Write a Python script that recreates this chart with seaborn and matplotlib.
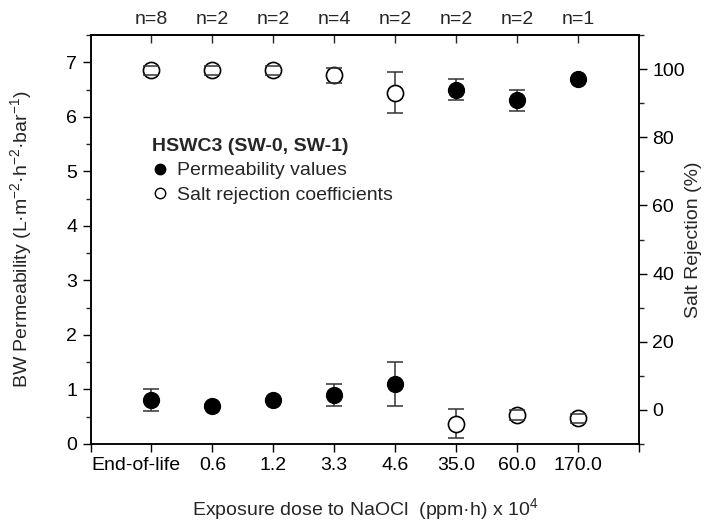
import numpy as np
import pandas as pd
import matplotlib
matplotlib.use("Agg")
import matplotlib.pyplot as plt
from matplotlib.lines import Line2D
from matplotlib.ticker import MultipleLocator, FixedLocator, NullFormatter
import seaborn as sns

# NaOCl exposure doses (x 10^4 ppm·h) and sample counts
doses = ["End-of-life", "0.6", "1.2", "3.3", "4.6", "35.0", "60.0", "170.0"]
counts = ["n=8", "n=2", "n=2", "n=4", "n=2", "n=2", "n=2", "n=1"]

# Brackish-water permeability (L·m-2·h-1·bar-1) with standard deviations
permeability = [0.8, 0.7, 0.8, 0.9, 1.1, 6.5, 6.3, 6.7]
permeability_err = [0.2, 0.03, 0.03, 0.2, 0.4, 0.2, 0.2, 0.0]

# Salt rejection (%) with standard deviations
rejection = [99.6, 99.7, 99.6, 98.2, 93.0, -4.0, -1.5, -2.5]
rejection_err = [1.3, 1.3, 1.3, 2.2, 6.0, 4.3, 1.4, 1.3]

sns.set_theme(style="ticks")
plt.rcParams["font.family"] = ["Liberation Sans", "DejaVu Sans"]
plt.rcParams["mathtext.fontset"] = "custom"
plt.rcParams["mathtext.rm"] = "Liberation Sans"
plt.rcParams["mathtext.it"] = "Liberation Sans:italic"
plt.rcParams["mathtext.bf"] = "Liberation Sans:bold"

FS = 14
df = pd.DataFrame({
    "pos": np.arange(len(doses)),
    "dose": doses,
    "perm": permeability,
    "perm_err": permeability_err,
    "rej": rejection,
    "rej_err": rejection_err,
})

fig = plt.figure(figsize=(7.11, 5.26), dpi=100)
ax = fig.add_axes([90.5 / 711, 82 / 526, 548.5 / 711, 409 / 526])
ax2 = ax.twinx()

err_color = "#333333"

# Permeability: filled circles, error bars underneath
ax.errorbar(df["pos"], df["perm"], yerr=df["perm_err"], fmt="none",
            ecolor=err_color, elinewidth=1.1, capsize=6, capthick=1.1, zorder=2)
sns.scatterplot(data=df, x="pos", y="perm", ax=ax, color="black", s=135,
                edgecolor="black", linewidth=0.8, zorder=3, legend=False)

# Salt rejection: open circles, caps drawn over the marker
_, caps, bars = ax2.errorbar(df["pos"], df["rej"], yerr=df["rej_err"], fmt="none",
                             ecolor=err_color, elinewidth=1.1, capsize=6,
                             capthick=1.1, zorder=2)
sns.scatterplot(data=df, x="pos", y="rej", ax=ax2, facecolor="white", s=135,
                edgecolor="black", linewidth=1.2, zorder=3, legend=False)
for c in caps:
    c.set_zorder(4)

# Axis ranges
ax.set_xlim(-1, 8)
ax.set_ylim(0, 7.5)
ax2.set_ylim(-10, 110)

# Bottom axis: tick marks on every slot; dose names on a tickless secondary
# axis (the long first name sits slightly left of its tick)
ax.xaxis.set_major_locator(FixedLocator(np.arange(-1, 9)))
ax.xaxis.set_major_formatter(NullFormatter())
ax.set_xlabel("")
ax2.set_xlabel("")
label_pos = np.arange(len(doses), dtype=float)
label_pos[0] = -0.25
bottom = ax.secondary_xaxis("bottom")
bottom.set_xticks(label_pos)
bottom.set_xticklabels(doses, fontsize=FS)
bottom.tick_params(length=0, pad=9.5, colors="black")
bottom.spines["bottom"].set_visible(False)

ax.yaxis.set_major_locator(MultipleLocator(1))
ax.yaxis.set_minor_locator(MultipleLocator(0.5))
ax2.yaxis.set_minor_locator(MultipleLocator(10))
ax2.set_yticks([0, 20, 40, 60, 80, 100])

ax.tick_params(axis="both", which="major", direction="out", length=6, width=1,
               labelsize=FS, colors="black")
ax.tick_params(axis="y", which="minor", direction="out", length=3.5, width=1)
ax2.tick_params(axis="y", which="major", direction="out", length=6, width=1,
                labelsize=FS, colors="black")
ax2.tick_params(axis="y", which="minor", direction="out", length=3.5, width=1)

# Top axis: sample counts
top = ax.secondary_xaxis("top")
top.set_xticks(np.arange(len(counts)))
top.set_xticklabels(counts, fontsize=FS)
top.tick_params(direction="in", length=6, width=1, pad=5)

for a in (ax, ax2):
    for s in a.spines.values():
        s.set_linewidth(1.1)
        s.set_color("black")
        s.set_visible(True)
top.spines["top"].set_linewidth(1.1)

bottom.set_xlabel("Exposure dose to NaOCl  (ppm·h) x 10$^{4}$", fontsize=FS, labelpad=16)
ax.set_ylabel("BW Permeability (L·m$^{-2}$·h$^{-2}$·bar$^{-1}$)", fontsize=FS, labelpad=23)
ax2.set_ylabel("Salt Rejection (%)", fontsize=FS, labelpad=0)

# Legend
handles = [
    Line2D([], [], linestyle="none", marker="o", markersize=7.5,
           markerfacecolor="black", markeredgecolor="black"),
    Line2D([], [], linestyle="none", marker="o", markersize=7.5,
           markerfacecolor="white", markeredgecolor="black", markeredgewidth=1.0),
]
leg = ax2.legend(handles, ["Permeability values", "Salt rejection coefficients"],
                 title="HSWC3 (SW-0, SW-1)", loc="upper left",
                 bbox_to_anchor=(0.112, 0.748), frameon=False, fontsize=FS,
                 title_fontproperties={"weight": "bold", "size": FS},
                 handlelength=0.8, handletextpad=0.5, labelspacing=0.35,
                 borderpad=0, borderaxespad=0)
leg._legend_box.align = "left"

fig.savefig("out.png", dpi=100)
